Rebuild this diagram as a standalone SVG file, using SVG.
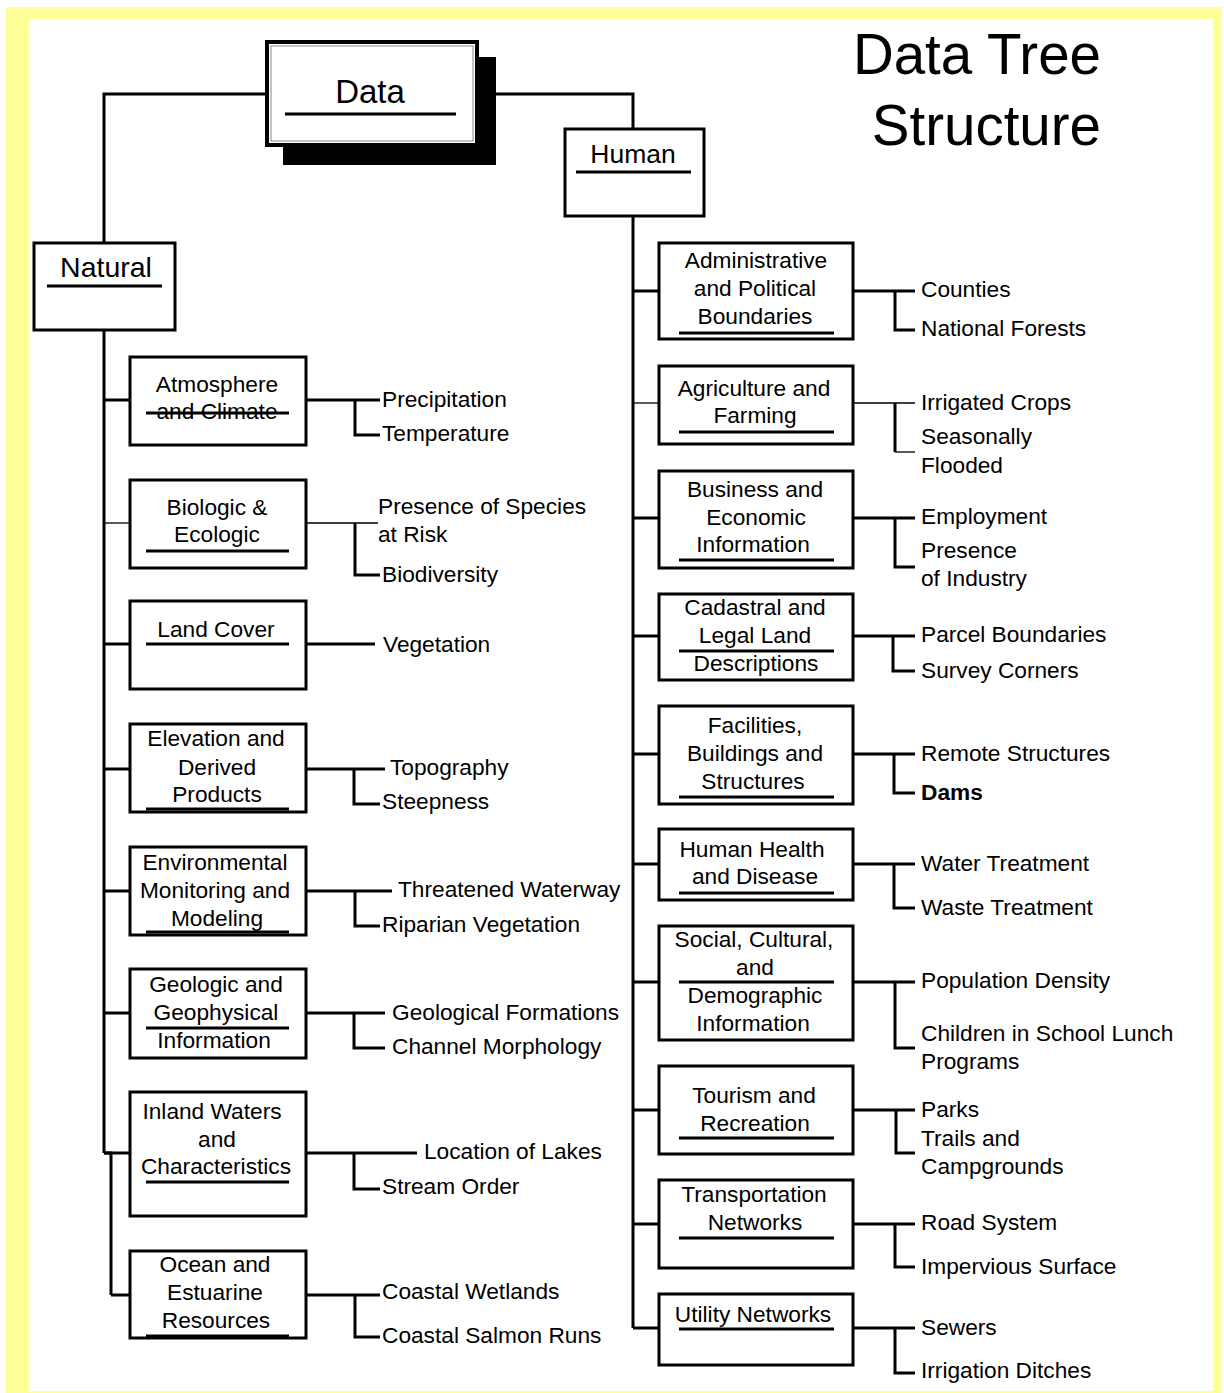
<svg xmlns="http://www.w3.org/2000/svg" width="1224" height="1393" viewBox="0 0 1224 1393">
  <style>
    .t { font-family: "Liberation Sans", Arial, sans-serif; font-size: 22.7px; fill: #000; }
    .m { text-anchor: middle; }
    .title { font-size: 56.5px; text-anchor: end; }
    .box { fill: #fff; stroke: #000; stroke-width: 3; }
    .ul { stroke: #000; stroke-width: 3; }
    .c { stroke: #000; stroke-width: 3; fill: none; }
    .thin { stroke-width: 1.3; }
  </style>

  <!-- page frame -->
  <rect x="6" y="7" width="1216" height="1386" fill="#FFFF99"/>
  <rect x="29" y="19" width="1184" height="1372" fill="#fff"/>

  <!-- title -->
  <g id="title">
    <text class="t title" x="1101" y="74">Data Tree</text>
    <text class="t title" x="1101" y="145">Structure</text>
  </g>

  <!-- connectors -->
  <g id="connectors" class="c">
    <!-- root to categories -->
    <polyline points="265,94 104,94 104,242"/>
    <polyline points="496,94 633,94 633,128"/>
    <!-- natural trunk -->
    <line x1="104" y1="331" x2="104" y2="1153"/>
    <polyline points="104,1153 111,1153 111,1295"/>
    <line x1="104" y1="400" x2="130" y2="400"/>
    <line class="thin" x1="104" y1="523" x2="130" y2="523"/>
    <line x1="104" y1="644" x2="130" y2="644"/>
    <line x1="104" y1="769" x2="130" y2="769"/>
    <line x1="104" y1="891" x2="130" y2="891"/>
    <line x1="104" y1="1013" x2="130" y2="1013"/>
    <line x1="104" y1="1153" x2="130" y2="1153"/>
    <line x1="111" y1="1295" x2="130" y2="1295"/>
    <!-- natural leaves -->
    <line x1="306" y1="400" x2="380" y2="400"/>
    <polyline points="355,400 355,435 380,435"/>
    <line class="thin" x1="306" y1="523" x2="378" y2="523"/>
    <polyline points="355,523 355,575 380,575"/>
    <line x1="306" y1="644" x2="375" y2="644"/>
    <line x1="306" y1="769" x2="385" y2="769"/>
    <polyline points="354,769 354,804 380,804"/>
    <line x1="306" y1="891" x2="392" y2="891"/>
    <polyline points="355,891 355,926 380,926"/>
    <line x1="306" y1="1013" x2="385" y2="1013"/>
    <polyline points="354,1013 354,1048 385,1048"/>
    <line x1="306" y1="1153" x2="417" y2="1153"/>
    <polyline points="354,1153 354,1189 380,1189"/>
    <line x1="306" y1="1295" x2="380" y2="1295"/>
    <polyline points="355,1295 355,1337 380,1337"/>
    <!-- human trunk -->
    <line x1="633" y1="217" x2="633" y2="1328"/>
    <line x1="633" y1="291" x2="659" y2="291"/>
    <line class="thin" x1="633" y1="403" x2="659" y2="403"/>
    <line x1="633" y1="518" x2="659" y2="518"/>
    <line x1="633" y1="636" x2="659" y2="636"/>
    <line x1="633" y1="754" x2="659" y2="754"/>
    <line x1="633" y1="864" x2="659" y2="864"/>
    <line x1="633" y1="982" x2="659" y2="982"/>
    <line x1="633" y1="1110" x2="659" y2="1110"/>
    <line x1="633" y1="1224" x2="659" y2="1224"/>
    <line x1="633" y1="1328" x2="659" y2="1328"/>
    <!-- human leaves -->
    <line x1="853" y1="291" x2="915" y2="291"/>
    <polyline points="895,291 895,330 915,330"/>
    <line class="thin" x1="853" y1="403" x2="915" y2="403"/>
    <line x1="895" y1="403" x2="895" y2="452"/>
    <line class="thin" x1="895" y1="452" x2="915" y2="452"/>
    <line x1="853" y1="518" x2="915" y2="518"/>
    <polyline points="895,518 895,567 915,567"/>
    <line x1="853" y1="636" x2="915" y2="636"/>
    <polyline points="893,636 893,671 915,671"/>
    <line x1="853" y1="754" x2="915" y2="754"/>
    <polyline points="894,754 894,793 915,793"/>
    <line x1="853" y1="864" x2="915" y2="864"/>
    <polyline points="894,864 894,908 915,908"/>
    <line x1="853" y1="982" x2="915" y2="982"/>
    <polyline points="895,982 895,1048 915,1048"/>
    <line x1="853" y1="1110" x2="915" y2="1110"/>
    <polyline points="896,1110 896,1153 915,1153"/>
    <line x1="853" y1="1224" x2="915" y2="1224"/>
    <polyline points="895,1224 895,1267 915,1267"/>
    <line x1="853" y1="1328" x2="915" y2="1328"/>
    <polyline points="895,1328 895,1373 915,1373"/>
  </g>

  <!-- root -->
  <g id="data">
    <rect x="283" y="57" width="213" height="108" fill="#000"/>
    <rect x="267" y="42" width="210" height="103" fill="#fff" stroke="#000" stroke-width="4"/>
    <rect x="271" y="46" width="202" height="95" fill="none" stroke="#888" stroke-width="1"/>
    <text class="t m" x="370" y="103" style="font-size:33px">Data</text>
    <line class="ul" x1="285" y1="114" x2="456" y2="114"/>
  </g>

  <g id="human">
    <rect class="box" x="565" y="129" width="139" height="87"/>
    <text class="t m" x="633" y="163" style="font-size:26.5px">Human</text>
    <line class="ul" x1="576" y1="172" x2="691" y2="172"/>
  </g>

  <g id="natural">
    <rect class="box" x="34" y="243" width="141" height="87"/>
    <text class="t m" x="106" y="277" style="font-size:28.5px">Natural</text>
    <line class="ul" x1="47" y1="286" x2="162" y2="286"/>
  </g>

  <!-- natural categories -->
  <g id="atmosphere">
    <rect class="box" x="130" y="357" width="176" height="88"/>
    <text class="t m" x="217" y="392">Atmosphere</text>
    <text class="t m" x="217" y="419">and Climate</text>
    <line class="ul" x1="146" y1="413" x2="289" y2="413"/>
  </g>
  <g id="biologic">
    <rect class="box" x="130" y="480" width="176" height="88"/>
    <text class="t m" x="217" y="515">Biologic &amp;</text>
    <text class="t m" x="217" y="542">Ecologic</text>
    <line class="ul" x1="146" y1="551" x2="289" y2="551"/>
  </g>
  <g id="land-cover">
    <rect class="box" x="130" y="601" width="176" height="88"/>
    <text class="t m" x="216" y="637">Land Cover</text>
    <line class="ul" x1="146" y1="644" x2="289" y2="644"/>
  </g>
  <g id="elevation">
    <rect class="box" x="130" y="724" width="176" height="88"/>
    <text class="t m" x="216" y="746">Elevation and</text>
    <text class="t m" x="217" y="775">Derived</text>
    <text class="t m" x="217" y="802">Products</text>
    <line class="ul" x1="146" y1="809" x2="289" y2="809"/>
  </g>
  <g id="environmental">
    <rect class="box" x="130" y="847" width="176" height="88"/>
    <text class="t m" x="215" y="870">Environmental</text>
    <text class="t m" x="215" y="898">Monitoring and</text>
    <text class="t m" x="217" y="926">Modeling</text>
    <line class="ul" x1="146" y1="932" x2="289" y2="932"/>
  </g>
  <g id="geologic">
    <rect class="box" x="130" y="969" width="176" height="89"/>
    <text class="t m" x="216" y="992">Geologic and</text>
    <text class="t m" x="216" y="1020">Geophysical</text>
    <text class="t m" x="214" y="1048">Information</text>
    <line class="ul" x1="146" y1="1028" x2="289" y2="1028"/>
  </g>
  <g id="inland-waters">
    <rect class="box" x="130" y="1092" width="176" height="124"/>
    <text class="t m" x="212" y="1119">Inland Waters</text>
    <text class="t m" x="217" y="1147">and</text>
    <text class="t m" x="216" y="1174">Characteristics</text>
    <line class="ul" x1="146" y1="1182" x2="289" y2="1182"/>
  </g>
  <g id="ocean">
    <rect class="box" x="130" y="1251" width="176" height="87"/>
    <text class="t m" x="215" y="1272">Ocean and</text>
    <text class="t m" x="215" y="1300">Estuarine</text>
    <text class="t m" x="216" y="1328">Resources</text>
    <line class="ul" x1="146" y1="1336" x2="289" y2="1336"/>
  </g>

  <!-- natural leaves -->
  <g id="natural-leaves" class="t">
    <text x="382" y="407">Precipitation</text>
    <text x="382" y="441">Temperature</text>
    <text x="378" y="514">Presence of Species</text>
    <text x="378" y="542">at Risk</text>
    <text x="382" y="582">Biodiversity</text>
    <text x="383" y="652">Vegetation</text>
    <text x="390" y="775">Topography</text>
    <text x="382" y="809">Steepness</text>
    <text x="398" y="897">Threatened Waterway</text>
    <text x="382" y="932">Riparian Vegetation</text>
    <text x="392" y="1020">Geological Formations</text>
    <text x="392" y="1054">Channel Morphology</text>
    <text x="424" y="1159">Location of Lakes</text>
    <text x="382" y="1194">Stream Order</text>
    <text x="382" y="1299">Coastal Wetlands</text>
    <text x="382" y="1343">Coastal Salmon Runs</text>
  </g>

  <!-- human categories -->
  <g id="administrative">
    <rect class="box" x="659" y="243" width="194" height="96"/>
    <text class="t m" x="756" y="268">Administrative</text>
    <text class="t m" x="755" y="296">and Political</text>
    <text class="t m" x="755" y="324">Boundaries</text>
    <line class="ul" x1="679" y1="333" x2="834" y2="333"/>
  </g>
  <g id="agriculture">
    <rect class="box" x="659" y="366" width="194" height="78"/>
    <text class="t m" x="754" y="396">Agriculture and</text>
    <text class="t m" x="755" y="423">Farming</text>
    <line class="ul" x1="679" y1="432" x2="834" y2="432"/>
  </g>
  <g id="business">
    <rect class="box" x="659" y="471" width="194" height="97"/>
    <text class="t m" x="755" y="497">Business and</text>
    <text class="t m" x="756" y="525">Economic</text>
    <text class="t m" x="753" y="552">Information</text>
    <line class="ul" x1="679" y1="560" x2="834" y2="560"/>
  </g>
  <g id="cadastral">
    <rect class="box" x="659" y="594" width="194" height="86"/>
    <text class="t m" x="755" y="615">Cadastral and</text>
    <text class="t m" x="755" y="643">Legal Land</text>
    <text class="t m" x="756" y="671">Descriptions</text>
    <line class="ul" x1="679" y1="651" x2="834" y2="651"/>
  </g>
  <g id="facilities">
    <rect class="box" x="659" y="706" width="194" height="98"/>
    <text class="t m" x="755" y="733">Facilities,</text>
    <text class="t m" x="755" y="761">Buildings and</text>
    <text class="t m" x="753" y="789">Structures</text>
    <line class="ul" x1="679" y1="797" x2="834" y2="797"/>
  </g>
  <g id="health">
    <rect class="box" x="659" y="829" width="194" height="71"/>
    <text class="t m" x="752" y="857">Human Health</text>
    <text class="t m" x="755" y="884">and Disease</text>
    <line class="ul" x1="679" y1="893" x2="834" y2="893"/>
  </g>
  <g id="social">
    <rect class="box" x="659" y="926" width="194" height="114"/>
    <text class="t m" x="754" y="947">Social, Cultural,</text>
    <text class="t m" x="755" y="975">and</text>
    <text class="t m" x="755" y="1003">Demographic</text>
    <text class="t m" x="753" y="1031">Information</text>
    <line class="ul" x1="679" y1="982" x2="834" y2="982"/>
  </g>
  <g id="tourism">
    <rect class="box" x="659" y="1066" width="194" height="88"/>
    <text class="t m" x="754" y="1103">Tourism and</text>
    <text class="t m" x="755" y="1131">Recreation</text>
    <line class="ul" x1="679" y1="1138" x2="834" y2="1138"/>
  </g>
  <g id="transportation">
    <rect class="box" x="659" y="1180" width="194" height="88"/>
    <text class="t m" x="754" y="1202">Transportation</text>
    <text class="t m" x="755" y="1230">Networks</text>
    <line class="ul" x1="679" y1="1238" x2="834" y2="1238"/>
  </g>
  <g id="utility">
    <rect class="box" x="659" y="1294" width="194" height="71"/>
    <text class="t m" x="753" y="1322">Utility Networks</text>
    <line class="ul" x1="679" y1="1329" x2="834" y2="1329"/>
  </g>

  <!-- human leaves -->
  <g id="human-leaves" class="t">
    <text x="921" y="297">Counties</text>
    <text x="921" y="336">National Forests</text>
    <text x="921" y="410">Irrigated Crops</text>
    <text x="921" y="444">Seasonally</text>
    <text x="921" y="473">Flooded</text>
    <text x="921" y="524">Employment</text>
    <text x="921" y="558">Presence</text>
    <text x="921" y="586">of Industry</text>
    <text x="921" y="642">Parcel Boundaries</text>
    <text x="921" y="678">Survey Corners</text>
    <text x="921" y="761">Remote Structures</text>
    <text x="921" y="800" font-weight="bold">Dams</text>
    <text x="921" y="871">Water Treatment</text>
    <text x="921" y="915">Waste Treatment</text>
    <text x="921" y="988">Population Density</text>
    <text x="921" y="1041">Children in School Lunch</text>
    <text x="921" y="1069">Programs</text>
    <text x="921" y="1117">Parks</text>
    <text x="921" y="1146">Trails and</text>
    <text x="921" y="1174">Campgrounds</text>
    <text x="921" y="1230">Road System</text>
    <text x="921" y="1274">Impervious Surface</text>
    <text x="921" y="1335">Sewers</text>
    <text x="921" y="1378">Irrigation Ditches</text>
  </g>
</svg>
